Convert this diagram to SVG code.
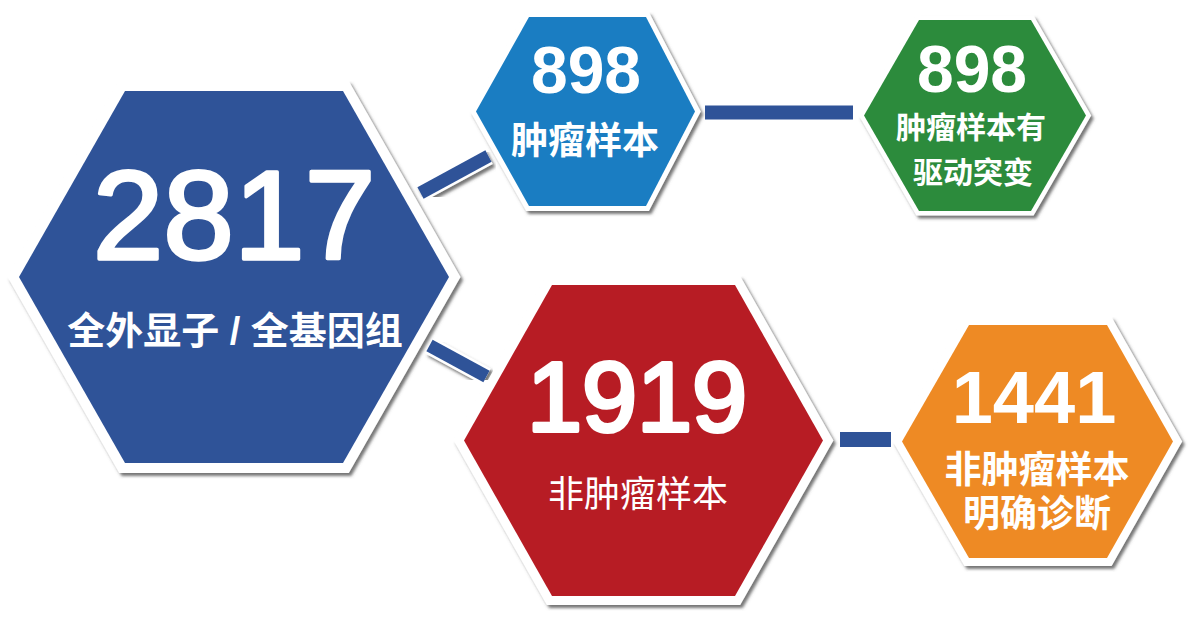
<svg xmlns="http://www.w3.org/2000/svg" width="1190" height="625" viewBox="0 0 1190 625">
<defs>
<filter id="sh" x="-10%" y="-10%" width="120%" height="120%">
<feDropShadow dx="2.5" dy="3" stdDeviation="1.5" flood-color="#555" flood-opacity="0.8"/>
</filter>
<style>
.rim{fill:#fff;filter:url(#sh)}
.num{font-family:"Liberation Sans","Noto Sans CJK SC",sans-serif;font-weight:bold;fill:#fff;text-anchor:middle}
.numr{font-family:"Liberation Sans","Noto Sans CJK SC",sans-serif;font-weight:normal;fill:#fff;stroke:#fff;stroke-linejoin:round;text-anchor:middle}
.lab{font-family:"Liberation Sans","Noto Sans CJK SC",sans-serif;font-weight:bold;fill:#fff;text-anchor:middle}
.labr{font-family:"Liberation Sans","Noto Sans CJK SC",sans-serif;font-weight:normal;fill:#fff;text-anchor:middle}
.bar{stroke:#2F5398;fill:none}
.barrim{stroke:#fff;fill:none;filter:url(#sh)}
</style>
</defs>
<rect width="1190" height="625" fill="#fff"/>
<g id="connectors">
<line class="barrim" x1="420.5" y1="193" x2="488.5" y2="156" stroke-width="18"/>
<line class="bar" x1="420.5" y1="193" x2="488.5" y2="156" stroke-width="13"/>
<line class="barrim" x1="429.5" y1="345.5" x2="486.5" y2="376.5" stroke-width="18"/>
<line class="bar" x1="429.5" y1="345.5" x2="486.5" y2="376.5" stroke-width="13"/>
<line class="barrim" x1="705" y1="112.5" x2="853" y2="112.5" stroke-width="19"/>
<line class="bar" x1="705" y1="112.5" x2="853" y2="112.5" stroke-width="14"/>
<line class="barrim" x1="840" y1="439.5" x2="891" y2="439.5" stroke-width="20"/>
<line class="bar" x1="840" y1="439.5" x2="891" y2="439.5" stroke-width="15"/>
</g>
<g id="n2817">
<polygon class="rim" points="7.5,277 119.2,81 348.8,81 460.5,277 348.8,473 119.2,473"/>
<polygon fill="#2F5398" points="19,277 125,91 343,91 449,277 343,463 125,463"/>
<text class="numr" x="234" y="259" font-size="127" stroke-width="3.5">2817</text>
<text class="lab" x="235" y="344" font-size="38">全外显子 / 全基因组</text>
</g>
<g id="n898a">
<polygon class="rim" points="470.2,111.5 526.1,12 648.9,12 700.8,111.5 648.9,211 526.1,211"/>
<polygon fill="#1A7DC2" points="476,111.5 529,17 646,17 695,111.5 646,206 529,206"/>
<text class="num" x="586" y="93" font-size="66">898</text>
<text class="lab" x="585" y="154" font-size="37">肿瘤样本</text>
</g>
<g id="n898b">
<polygon class="rim" points="858.8,115.5 916.4,15.5 1033.6,15.5 1091.2,115.5 1033.6,215.5 916.4,215.5"/>
<polygon fill="#2C8B3C" points="864,115.5 919,20 1031,20 1086,115.5 1031,211 919,211"/>
<text class="num" x="972" y="92" font-size="66">898</text>
<text class="lab" x="971" y="138" font-size="30">肿瘤样本有</text>
<text class="lab" x="973" y="183" font-size="30">驱动突变</text>
</g>
<g id="n1919">
<polygon class="rim" points="453.6,440.5 546.8,276 740.2,276 833.4,440.5 740.2,605 546.8,605"/>
<polygon fill="#B71C24" points="464,440.5 552,285 735,285 823,440.5 735,596 552,596"/>
<text class="numr" x="637" y="431" font-size="99" stroke-width="4">1919</text>
<text class="labr" x="638" y="507" font-size="36">非肿瘤样本</text>
</g>
<g id="n1441">
<polygon class="rim" points="892.8,441.5 964.4,317 1111.6,317 1182.2,441.5 1111.6,566 964.4,566"/>
<polygon fill="#EE8A24" points="902,441.5 969,325 1107,325 1173,441.5 1107,558 969,558"/>
<text class="num" x="1034" y="423" font-size="74">1441</text>
<text class="lab" x="1037" y="483" font-size="37">非肿瘤样本</text>
<text class="lab" x="1037" y="527" font-size="37">明确诊断</text>
</g>
</svg>
